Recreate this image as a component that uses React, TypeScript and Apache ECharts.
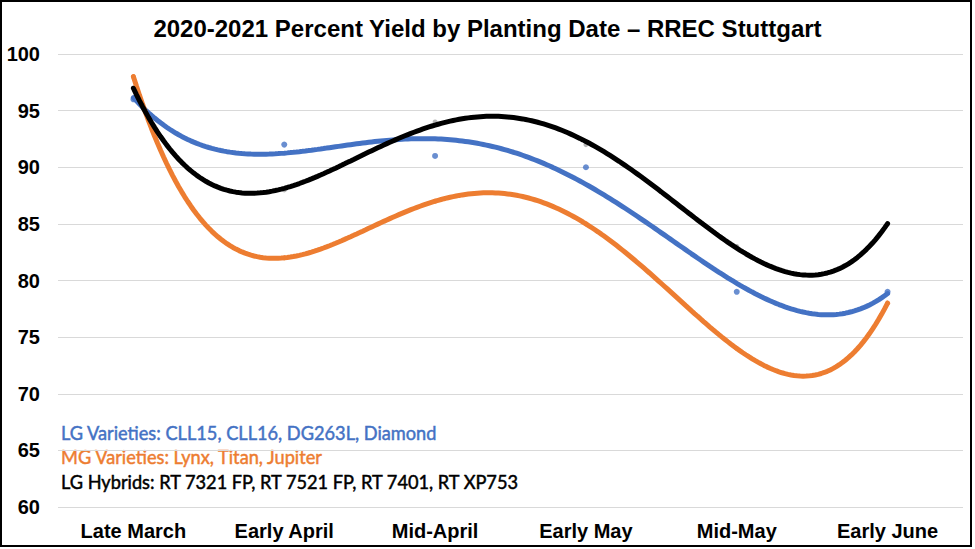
import React, { useEffect, useRef } from "react";
import * as echarts from "echarts";

const categories = ["Late March", "Early April", "Mid-April", "Early May", "Mid-May", "Early June"];
const lgVarieties = [96, 92, 91, 90, 79, 79];
const mgVarieties = [98, 82, 87, 85, 74, 78];
const lgHybrids = [97, 88, 94, 92, 83, 85];
const yMin = 60;
const yMax = 100;
const yStep = 5;
const titleText = "2020-2021 Percent Yield by Planting Date \u2013 RREC Stuttgart";
const noteLG = "LG Varieties: CLL15, CLL16, DG263L, Diamond";
const noteMG = "MG Varieties: Lynx, Titan, Jupiter";
const noteHY = "LG Hybrids: RT 7321 FP, RT 7521 FP, RT 7401, RT XP753";

const BLUE = "#4472C4";
const ORANGE = "#ED7D31";
const GREY = "#A5A5A5";

// least-squares polynomial trendline (like a spreadsheet's polynomial trendline)
function polyfit(ys: number[], deg: number): number[] {
  const n = deg + 1;
  const A: number[][] = [];
  const b: number[] = [];
  for (let i = 0; i < n; i++) {
    A.push(new Array(n).fill(0));
    b.push(0);
  }
  ys.forEach((y, x) => {
    for (let i = 0; i < n; i++) {
      for (let j = 0; j < n; j++) A[i][j] += Math.pow(x, i + j);
      b[i] += y * Math.pow(x, i);
    }
  });
  for (let c = 0; c < n; c++) {
    let p = c;
    for (let r = c + 1; r < n; r++) if (Math.abs(A[r][c]) > Math.abs(A[p][c])) p = r;
    [A[c], A[p]] = [A[p], A[c]];
    [b[c], b[p]] = [b[p], b[c]];
    for (let r = 0; r < n; r++) {
      if (r === c) continue;
      const f = A[r][c] / A[c][c];
      for (let k = c; k < n; k++) A[r][k] -= f * A[c][k];
      b[r] -= f * b[c];
    }
  }
  return b.map((v, i) => v / A[i][i]);
}

function trend(ys: number[]): number[][] {
  const coef = polyfit(ys, 4);
  const out: number[][] = [];
  const last = ys.length - 1;
  for (let k = 0; k <= last * 50; k++) {
    const x = k / 50;
    let y = 0;
    coef.forEach((c, i) => (y += c * Math.pow(x, i)));
    out.push([x, y]);
  }
  return out;
}

export default function App() {
  const ref = useRef<HTMLDivElement>(null);
  useEffect(() => {
    if (!ref.current) return;
    const chart = echarts.init(ref.current, null, { renderer: "svg" });
    const font = "'Liberation Sans', Arial, sans-serif";
    const noteFont = "Lato, Carlito, Calibri, sans-serif";
    const lineSeries = (name: string, ys: number[], color: string, z: number) => ({
      name,
      type: "line",
      xAxisIndex: 1,
      data: trend(ys),
      showSymbol: false,
      symbol: "none",
      smooth: false,
      lineStyle: { color, width: 5, cap: "round" },
      z,
      silent: true,
    });
    const pointSeries = (name: string, ys: number[], color: string, size: number) => ({
      name: name + " data",
      type: "scatter",
      xAxisIndex: 0,
      data: ys,
      symbol: "circle",
      symbolSize: size,
      itemStyle: { color },
      z: 1,
      silent: true,
    });
    const note = (text: string, color: string, top: number) => ({
      type: "text",
      x: 61,
      y: top,
      scaleX: 0.91,
      style: {
        text,
        fill: color,
        stroke: color,
        lineWidth: 0.5,
        font: `20px ${noteFont}`,
        textVerticalAlign: "middle",
      },
      silent: true,
    });
    chart.setOption({
      animation: false,
      backgroundColor: "#fff",
      title: {
        text: titleText,
        left: "center",
        top: 11,
        textStyle: { fontFamily: font, fontSize: 24, fontWeight: "bold", color: "#000" },
      },
      grid: { left: 58, right: 12, top: 54, bottom: 42 },
      xAxis: [
        {
          type: "category",
          data: categories,
          boundaryGap: true,
          axisLine: { show: false },
          axisTick: { show: false },
          axisLabel: { fontFamily: font, fontSize: 20, fontWeight: "bold", color: "#000", margin: 14 },
        },
        {
          type: "value",
          min: -0.5,
          max: 5.5,
          show: false,
        },
      ],
      yAxis: {
        type: "value",
        min: yMin,
        max: yMax,
        interval: yStep,
        axisLine: { show: false },
        axisTick: { show: false },
        axisLabel: { fontFamily: font, fontSize: 20, fontWeight: "bold", color: "#000", margin: 18 },
        splitLine: { lineStyle: { color: "#D9D9D9", width: 1 } },
      },
      graphic: [
        {
          type: "rect",
          shape: { x: 1, y: 1, width: 970, height: 545 },
          style: { fill: "none", stroke: "#000", lineWidth: 2 },
          silent: true,
          z: 100,
        },
        note(noteLG, BLUE, 432),
        note(noteMG, ORANGE, 456),
        note(noteHY, "#000", 481),
      ],
      series: [
        pointSeries("LG Varieties", lgVarieties, BLUE, 6),
        pointSeries("MG Varieties", mgVarieties, ORANGE, 5),
        pointSeries("LG Hybrids", lgHybrids, GREY, 5),
        lineSeries("LG Varieties trend", lgVarieties, BLUE, 3),
        lineSeries("MG Varieties trend", mgVarieties, ORANGE, 4),
        lineSeries("LG Hybrids trend", lgHybrids, "#000", 5),
      ],
    });
    return () => chart.dispose();
  }, []);
  return (
    <div
      ref={ref}
      style={{ position: "fixed", left: 0, top: 0, width: 975, height: 549, background: "#fff" }}
    />
  );
}
